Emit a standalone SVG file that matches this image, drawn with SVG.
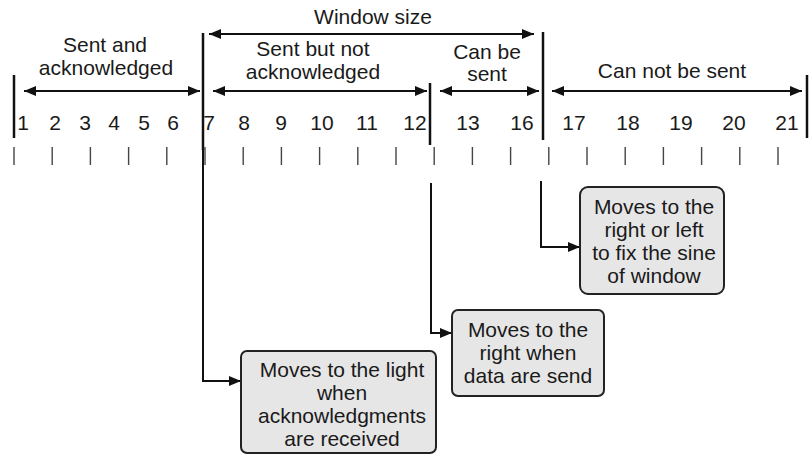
<svg xmlns="http://www.w3.org/2000/svg" width="811" height="455" viewBox="0 0 811 455">
<defs>
<marker id="ah" viewBox="0 0 12 10" refX="12" refY="5" markerWidth="12" markerHeight="10" markerUnits="userSpaceOnUse" orient="auto-start-reverse">
<path d="M0,0 L12,5 L0,10 z" fill="#111"/>
</marker>
<style>
text{font-family:"Liberation Sans",Arial,sans-serif;font-size:21px;fill:#1a1a1a;text-anchor:middle}
.bar{stroke:#111;stroke-width:2.5;fill:none}
.arr{stroke:#111;stroke-width:2.2;fill:none;marker-start:url(#ah);marker-end:url(#ah)}
.con{stroke:#111;stroke-width:2;fill:none;marker-end:url(#ah)}
.tick{stroke:#444;stroke-width:1.4}
.box{fill:#e6e6e6;stroke:#222;stroke-width:2}
</style>
</defs>
<rect width="811" height="455" fill="#fff"/>
<g id="scale">
<line class="bar" x1="14" y1="75" x2="14" y2="138"/>
<line class="bar" x1="203" y1="33" x2="203" y2="150"/>
<line class="bar" x1="430" y1="83" x2="430" y2="145"/>
<line class="bar" x1="543" y1="32" x2="543" y2="140"/>
<line class="bar" x1="807" y1="75" x2="807" y2="138"/>
<g class="tick">
<line x1="14" y1="147" x2="14" y2="165"/><line x1="52.2" y1="147" x2="52.2" y2="165"/><line x1="90.4" y1="147" x2="90.4" y2="165"/><line x1="128.6" y1="147" x2="128.6" y2="165"/><line x1="166.8" y1="147" x2="166.8" y2="165"/><line x1="205" y1="147" x2="205" y2="165"/><line x1="243.2" y1="147" x2="243.2" y2="165"/><line x1="281.4" y1="147" x2="281.4" y2="165"/><line x1="319.6" y1="147" x2="319.6" y2="165"/><line x1="357.8" y1="147" x2="357.8" y2="165"/><line x1="396" y1="147" x2="396" y2="165"/><line x1="434.2" y1="147" x2="434.2" y2="165"/><line x1="472.4" y1="147" x2="472.4" y2="165"/><line x1="510.6" y1="147" x2="510.6" y2="165"/><line x1="548.8" y1="147" x2="548.8" y2="165"/><line x1="587" y1="147" x2="587" y2="165"/><line x1="625.2" y1="147" x2="625.2" y2="165"/><line x1="663.4" y1="147" x2="663.4" y2="165"/><line x1="701.6" y1="147" x2="701.6" y2="165"/><line x1="739.8" y1="147" x2="739.8" y2="165"/><line x1="778" y1="147" x2="778" y2="165"/>
</g>
<g id="numbers">
<text x="23" y="130">1</text><text x="55" y="130">2</text><text x="85" y="130">3</text><text x="114" y="130">4</text><text x="144" y="130">5</text><text x="173" y="130">6</text><text x="209" y="130">7</text><text x="244" y="130">8</text><text x="281" y="130">9</text><text x="322" y="130">10</text><text x="367" y="130">11</text><text x="415" y="130">12</text><text x="468" y="130">13</text><text x="522" y="130">16</text><text x="574" y="130">17</text><text x="628" y="130">18</text><text x="681" y="130">19</text><text x="734" y="130">20</text><text x="787" y="130">21</text>
</g>
</g>
<g id="labels">
<text x="373" y="24">Window size</text>
<text x="105" y="52">Sent and</text>
<text x="106" y="75">acknowledged</text>
<text x="313" y="56">Sent but not</text>
<text x="313" y="79">acknowledged</text>
<text x="487" y="59">Can be</text>
<text x="487" y="81">sent</text>
<text x="672" y="78">Can not be sent</text>
</g>
<g id="connectors">
<line class="arr" x1="209" y1="34" x2="534" y2="34"/>
<line class="arr" x1="24" y1="91" x2="200" y2="91"/>
<line class="arr" x1="213" y1="91" x2="427" y2="91"/>
<line class="arr" x1="440" y1="91" x2="539" y2="91"/>
<line class="arr" x1="552" y1="91" x2="802" y2="91"/>
<polyline class="con" points="203,148 203,381 241,381"/>
<polyline class="con" points="431,183 431,333 452,333"/>
<polyline class="con" points="541,181 541,247 580,247"/>
</g>
<g id="box-left">
<rect class="box" x="241" y="351" width="195" height="102" rx="6"/>
<text x="342" y="377">Moves to the light</text>
<text x="342" y="400">when</text>
<text x="342" y="423">acknowledgments</text>
<text x="342" y="446">are received</text>
</g>
<g id="box-mid">
<rect class="box" x="452" y="310" width="152" height="86" rx="6"/>
<text x="528" y="337">Moves to the</text>
<text x="528" y="360">right when</text>
<text x="528" y="383">data are send</text>
</g>
<g id="box-right">
<rect class="box" x="580" y="187" width="144" height="107" rx="8"/>
<text x="654" y="214">Moves to the</text>
<text x="654" y="237">right or left</text>
<text x="654" y="260">to fix the sine</text>
<text x="654" y="283">of window</text>
</g>
</svg>
